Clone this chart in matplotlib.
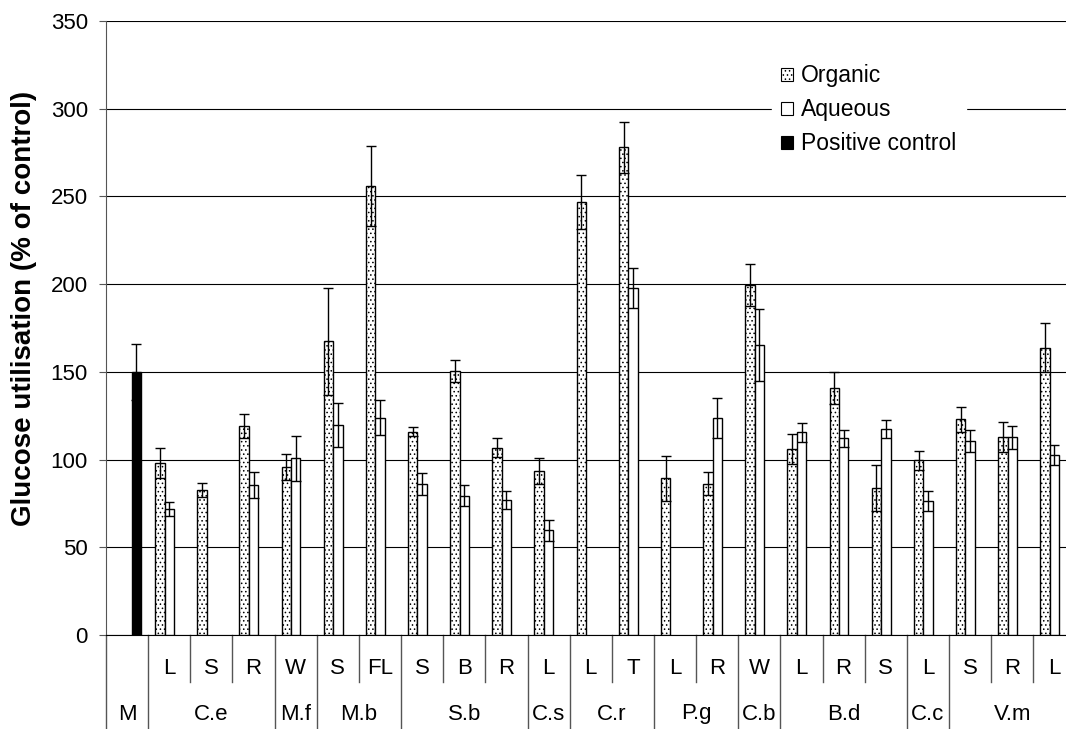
import numpy as np
import matplotlib
matplotlib.use("Agg")
import matplotlib.pyplot as plt
from matplotlib.patches import Patch
from matplotlib.lines import Line2D
from matplotlib.transforms import blended_transform_factory

plt.rcParams["font.family"] = ["Liberation Sans", "DejaVu Sans"]
plt.rcParams["hatch.linewidth"] = 0.6

nan = np.nan

# two-level category axis: plant (group) / part
groups = ["M", "C.e", "M.f", "M.b", "S.b", "C.s", "C.r", "P.g", "C.b", "B.d", "C.c", "V.m"]
parts = [[""], ["L", "S", "R"], ["W"], ["S", "FL"], ["S", "B", "R"], ["L"],
         ["L", "T"], ["L", "R"], ["W"], ["L", "R", "S"], ["L"], ["S", "R", "L"]]

organic = [nan, 98, 82.5, 119, 95.5, 167.5, 256, 116, 150.7, 106.8, 93.5,
           247, 278, 89.3, 86.3, 199.5, 106, 140.8, 83.8, 99.6, 122.9, 113.1, 163.8]
organic_err = [nan, 8.5, 4, 6.7, 7.4, 30.5, 22.6, 2.5, 6.3, 5.5, 7.4,
               15.5, 14.5, 12.7, 6.5, 12, 8.4, 9.1, 13.3, 5.3, 7, 8.5, 13.9]
aqueous = [nan, 71.8, nan, 85.5, 100.7, 119.7, 123.9, 86.3, 79.4, 77, 59.7,
           nan, 197.6, nan, 123.7, 165.2, 115.7, 112.1, 117.6, 76.4, 110.6, 112.7, 102.6]
aqueous_err = [nan, 4, nan, 7.5, 12.7, 12.7, 9.9, 6.3, 6, 5, 6,
               nan, 11.4, nan, 11.2, 20.4, 5.4, 4.8, 5.2, 5.6, 6.1, 6.5, 5.6]
control = [150]
control_err = [16]

FS = 16
W, H = 1066, 729
fig = plt.figure(figsize=(W / 100, H / 100), dpi=100)
# plot area runs past the right edge, like the cropped original
ax = fig.add_axes([106 / W, (H - 635) / H, 969.5 / W, 614 / H])

n = sum(len(p) for p in parts)
x = np.arange(n)
w = 0.223

org = np.array(organic, float)
orge = np.array(organic_err, float)
aq = np.array(aqueous, float)
aqe = np.array(aqueous_err, float)
m1 = ~np.isnan(org)
m2 = ~np.isnan(aq)

ekw = dict(ecolor="black", elinewidth=1.0, capsize=3.6, capthick=1.0)
ax.bar(x[m1] - w, org[m1], w, yerr=orge[m1], color="white", edgecolor="black",
       hatch="....", linewidth=1.0, error_kw=ekw, zorder=3)
ax.bar(x[m2], aq[m2], w, yerr=aqe[m2], color="white", edgecolor="black",
       linewidth=1.0, error_kw=ekw, zorder=3)
ax.bar(x[:1] + w, control, w, yerr=control_err, color="black", edgecolor="black",
       linewidth=1.0, error_kw=ekw, zorder=3)

ax.set_xlim(-0.5, n - 0.5)
ax.set_ylim(0, 350)
ax.set_yticks(np.arange(0, 351, 50))
ax.yaxis.grid(True, color="black", lw=0.8)
ax.set_axisbelow(True)
ax.set_xticks([])
ax.tick_params(axis="y", labelsize=FS, length=5, width=0.8, pad=8, color="#555555")
for s in ["top", "right"]:
    ax.spines[s].set_visible(False)
ax.spines["left"].set_color("#555555")
ax.spines["bottom"].set_color("black")

# category labels below the axis
tr = blended_transform_factory(ax.transData, ax.transAxes)
y_sub = -34 / 614
y_grp = -79 / 614
y_short = -47 / 614
y_long = -100 / 614
sep = "#555555"
ax.add_line(Line2D([-0.5, -0.5], [0, y_long], transform=tr, color=sep, lw=1.0, clip_on=False))
i = 0
for g, ps in zip(groups, parts):
    start = i
    for p in ps:
        if p:
            ax.text(i, y_sub, p, transform=tr, ha="center", va="center", fontsize=FS)
        if i > start:
            ax.add_line(Line2D([i - 0.5, i - 0.5], [0, y_short], transform=tr,
                               color=sep, lw=1.0, clip_on=False))
        i += 1
    ax.text((start + i - 1) / 2, y_grp, g, transform=tr, ha="center", va="center", fontsize=FS)
    ax.add_line(Line2D([i - 0.5, i - 0.5], [0, y_long], transform=tr,
                       color=sep, lw=1.0, clip_on=False))

fig.text(24 / W, 1 - 308 / H, "Glucose utilisation (% of control)", rotation=90,
         ha="center", va="center", fontsize=20, fontweight="bold")

handles = [Patch(facecolor="white", edgecolor="black", hatch="....", lw=0.8),
           Patch(facecolor="white", edgecolor="black", lw=0.8),
           Patch(facecolor="black", edgecolor="black", lw=0.8)]
leg = fig.legend(handles, ["Organic", "Aqueous", "Positive control"],
                 loc="upper left", bbox_to_anchor=(772 / W, 1 - 55 / H),
                 fontsize=16.5, frameon=True, fancybox=False, framealpha=1,
                 edgecolor="white", facecolor="white", borderpad=0.4,
                 handlelength=0.5, handleheight=0.5, handletextpad=0.37,
                 labelspacing=0.48, borderaxespad=0)

fig.savefig("out.png", dpi=100)
